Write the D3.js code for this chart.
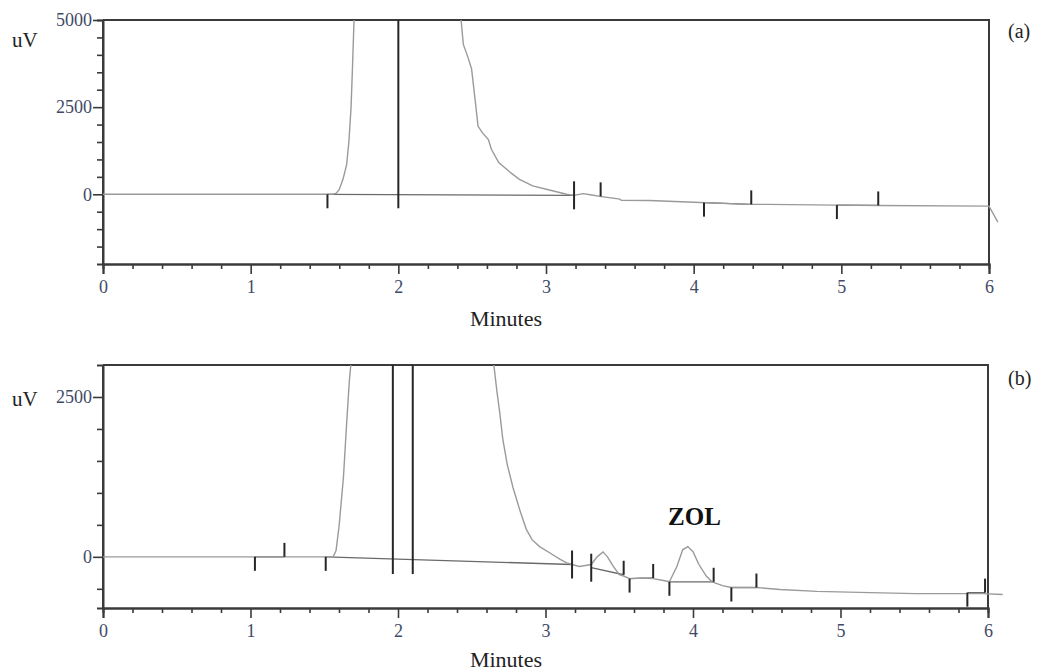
<!DOCTYPE html>
<html>
<head>
<meta charset="utf-8">
<script src="https://cdn.jsdelivr.net/npm/d3@7"></script>
<style>
  body { margin: 0; background: #fff; }
  svg text { font-family: "Liberation Serif", "Times New Roman", serif; }
</style>
</head>
<body>
<script>
// chromatogram (a) - blank, (b) - sample with ZOL
var xTicks = [0, 1, 2, 3, 4, 5, 6];

var traceA = [[0,0],[1.0,0],[1.5,0],[1.56,5],[1.58,30],[1.6,140],[1.625,430],[1.65,850],[1.665,1500],[1.68,2500],[1.69,3700],[1.70,5000],[1.72,6500],
  [2.40,6500],[2.425,5000],[2.44,4300],[2.47,3950],[2.496,3600],[2.52,2710],[2.54,1950],[2.57,1760],[2.61,1570],[2.63,1290],[2.68,910],[2.76,620],[2.82,430],
  [2.91,240],[3.05,95],[3.14,0],[3.19,-30],[3.25,20],[3.30,-15],[3.365,-60],[3.50,-140],[3.51,-170],[3.70,-180],[4.0,-230],[4.38,-290],[4.5,-290],
  [4.97,-310],[5.25,-320],[6.0,-340],[6.06,-800]];
var yMajorA = [0, 2500, 5000];
var yMinorA = [-1500, -1000, -500, 500, 1000, 1500, 2000, 3000, 3500, 4000, 4500];
var baseA = [[[1.52,0],[3.19,-30]], [[4.07,-240],[4.39,-290]], [[4.97,-310],[5.25,-320]]];
var marksA = [[1.52,0,"down"],[2.0,0,"tall"],[3.19,-30,"cross"],[3.37,-60,"up"],[4.07,-240,"down"],[4.39,-290,"up"],[4.97,-310,"down"],[5.25,-320,"up"]];

var traceB = [[0,0],[1.0,0],[1.5,0],[1.56,0],[1.58,100],[1.60,470],[1.63,1240],[1.65,2020],[1.67,2750],[1.68,3000],[1.70,3600],
  [2.62,3600],[2.65,3000],[2.67,2600],[2.69,2250],[2.71,1850],[2.74,1450],[2.78,1080],[2.83,700],[2.87,430],[2.91,265],[2.96,160],[3.03,60],
  [3.10,-40],[3.14,-90],[3.18,-120],[3.23,-150],[3.31,-120],[3.35,0],[3.39,78],[3.42,0],[3.46,-150],[3.50,-280],[3.53,-300],[3.57,-340],
  [3.65,-330],[3.73,-340],[3.80,-370],[3.84,-390],[3.89,-155],[3.93,110],[3.965,160],[4.0,80],[4.04,-120],[4.09,-300],[4.13,-390],[4.20,-450],
  [4.26,-480],[4.35,-480],[4.43,-480],[4.59,-510],[4.84,-540],[5.2,-560],[5.51,-575],[5.96,-575],[6.1,-590]];
var yMajorB = [0, 2500];
var yMinorB = [-500, 500, 1000, 1500, 2000];
var baseB = [[[1.03,0],[1.23,0]], [[1.51,0],[3.18,-120]], [[3.31,-170],[3.53,-280]], [[3.57,-340],[3.73,-330]],
  [[3.84,-390],[4.14,-390]], [[4.26,-480],[4.43,-480]], [[5.86,-560],[5.98,-560]]];
var marksB = [[1.03,0,"down"],[1.23,0,"up"],[1.51,0,"down"],[1.965,-50,"tall"],[2.10,-50,"tall"],[3.18,-120,"cross"],[3.31,-170,"cross"],
  [3.53,-280,"up"],[3.57,-340,"down"],[3.73,-330,"up"],[3.84,-390,"down"],[4.14,-390,"up"],[4.26,-480,"down"],[4.43,-480,"up"],
  [5.86,-560,"down"],[5.98,-560,"up"]];
var zolAt = 4.01;

var svg = d3.select('body').append('svg')
  .attr('width', 1039)
  .attr('height', 671);

var panels = [
  { id: 'a', top: 20, bottom: 264, right: 989, yDom: [-2000, 5000], major: yMajorA, minor: yMinorA,
    trace: traceA, base: baseA, marks: marksA, label: '(a)', labelY: 38, uvY: 47, tickY: 293, minY: 326 },
  { id: 'b', top: 365, bottom: 608, right: 988, yDom: [-800, 3000], major: yMajorB, minor: yMinorB,
    trace: traceB, base: baseB, marks: marksB, label: '(b)', labelY: 385, uvY: 406, tickY: 637, minY: 667 }
];

var left = 103;
var axisCol = '#3a3a3a';
var labelCol = '#3f4a66';
var serif = '"Liberation Serif", "Times New Roman", serif';

panels.forEach(function (p) {
  var x = d3.scaleLinear().domain([0, 6]).range([left, p.right]);
  var y = d3.scaleLinear().domain(p.yDom).range([p.bottom, p.top]);
  var g = svg.append('g');

  g.append('clipPath').attr('id', 'clip' + p.id)
    .append('rect').attr('x', left).attr('y', p.top).attr('width', 1039 - left).attr('height', p.bottom - p.top);

  // frame top + right
  g.append('path')
    .attr('d', 'M' + left + ',' + p.top + 'H' + p.right + 'V' + p.bottom)
    .attr('fill', 'none').attr('stroke', axisCol).attr('stroke-width', 2);

  // y axis
  var ya = g.append('g').attr('transform', 'translate(' + left + ',0)')
    .call(d3.axisLeft(y).tickValues(p.major).tickSize(10).tickPadding(1).tickFormat(d3.format('d')));
  g.append('g').attr('transform', 'translate(' + left + ',0)')
    .call(d3.axisLeft(y).tickValues(p.minor).tickSize(6).tickFormat(''));

  // x axis
  var xa = g.append('g').attr('transform', 'translate(0,' + p.bottom + ')')
    .call(d3.axisBottom(x).tickValues(xTicks).tickSize(10).tickPadding(6).tickFormat(d3.format('d')));
  var minorX = d3.range(0, 30).map(function (i) { return i * 0.2; }).filter(function (v) { return Math.abs(v - Math.round(v)) > 0.01; });
  g.append('g').attr('transform', 'translate(0,' + p.bottom + ')')
    .call(d3.axisBottom(x).tickValues(minorX).tickSize(5).tickFormat(''));

  ya.attr('font-family', serif).attr('font-size', 18);
  xa.attr('font-family', serif).attr('font-size', 18);
  g.selectAll('.domain').attr('stroke', axisCol).attr('stroke-width', 2);
  g.selectAll('.tick line').attr('stroke', axisCol).attr('stroke-width', 1.6);
  g.selectAll('.tick text').attr('fill', labelCol);
  ya.selectAll('.domain').attr('d', 'M0,' + p.top + 'V' + p.bottom);
  xa.selectAll('.tick text').attr('dy', null).attr('y', p.tickY - p.bottom);

  var line = d3.line().x(function (d) { return x(d[0]); }).y(function (d) { return y(d[1]); });

  // baselines drawn by the integrator
  g.selectAll('.base').data(p.base).enter().append('path')
    .attr('d', line).attr('fill', 'none').attr('stroke', '#6a6a6a').attr('stroke-width', 1.3);

  // signal trace
  g.append('path').datum(p.trace)
    .attr('clip-path', 'url(#clip' + p.id + ')')
    .attr('d', line)
    .attr('fill', 'none').attr('stroke', '#9a9a9a').attr('stroke-width', 1.4);

  // peak markers
  g.selectAll('.mark').data(p.marks).enter().append('line')
    .attr('x1', function (d) { return x(d[0]); })
    .attr('x2', function (d) { return x(d[0]); })
    .attr('y1', function (d) {
      if (d[2] == 'tall') return p.top;
      if (d[2] == 'up' || d[2] == 'cross') return y(d[1]) - 14;
      return y(d[1]);
    })
    .attr('y2', function (d) {
      if (d[2] == 'up') return y(d[1]);
      return y(d[1]) + 14;
    })
    .attr('stroke', '#262626').attr('stroke-width', 2);

  g.append('text').attr('x', 12).attr('y', p.uvY).text('uV')
    .attr('font-size', 21).attr('fill', '#222');
  g.append('text').attr('x', 1008).attr('y', p.labelY).text(p.label)
    .attr('font-size', 20).attr('fill', '#222');
  g.append('text').attr('x', 506).attr('y', p.minY).attr('text-anchor', 'middle').text('Minutes')
    .attr('font-size', 22).attr('fill', '#222');

  if (p.id == 'b') {
    g.append('text').attr('x', x(zolAt)).attr('y', 525).attr('text-anchor', 'middle').text('ZOL')
      .attr('font-size', 25).attr('font-weight', 'bold').attr('fill', '#111');
  }
});
</script>
</body>
</html>
